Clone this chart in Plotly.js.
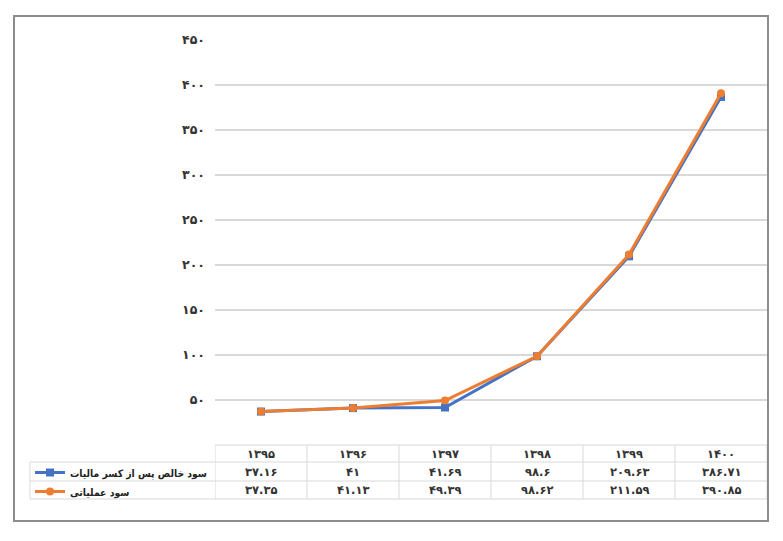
<!DOCTYPE html>
<html>
<head>
<meta charset="utf-8">
<script src="https://cdn.plot.ly/plotly-3.0.1.min.js"></script>
<style>
  html, body { margin: 0; padding: 0; background: #fff; }
  #chart { width: 783px; height: 541px; }
</style>
</head>
<body>
<div id="chart"></div>
<script>
// ---- data ----
const years = [1395, 1396, 1397, 1398, 1399, 1400];
const netProfit = [37.16, 41, 41.69, 98.6, 209.63, 386.71];
const operatingProfit = [37.35, 41.13, 49.39, 98.62, 211.59, 390.85];
const seriesNames = ["سود خالص پس از کسر مالیات", "سود عملیاتی"];
const yTicks = [50, 100, 150, 200, 250, 300, 350, 400, 450];

// ---- helpers ----
const W = 783, H = 541;
const M = { l: 215, r: 16, t: 40, b: 96 };
const PW = W - M.l - M.r, PH = H - M.t - M.b;
const px = x => (x - M.l) / PW;          // pixel x -> paper
const py = y => (H - M.b - y) / PH;      // pixel y -> paper

function toFa(v) {
  const d = "۰۱۲۳۴۵۶۷۸۹";
  return String(v).replace(/[0-9]/g, c => d[+c]);
}

const font = { family: "DejaVu Sans, sans-serif", size: 11.5, color: "#333", weight: "bold" };
const legFont = { family: "DejaVu Sans Condensed, DejaVu Sans, sans-serif", size: 10.3, color: "#222", weight: "bold" };
const gridCol = "#d9d9d9";
const idx = years.map((_, i) => i);

const traces = [
  {
    x: idx, y: netProfit, name: seriesNames[0],
    mode: "lines+markers", legendgroup: "a",
    line: { color: "#4472C4", width: 3 },
    marker: { symbol: "square", size: 8, color: "#4472C4" },
    hoverinfo: "y"
  },
  {
    x: idx, y: operatingProfit, name: seriesNames[1],
    mode: "lines+markers", legendgroup: "b",
    line: { color: "#ED7D31", width: 3 },
    marker: { symbol: "circle", size: 8, color: "#ED7D31" },
    hoverinfo: "y"
  }
];

// ---- data table below the plot ----
const rowTop = [445, 462, 481, 499];
const shapes = [];
const line = (x0, y0, x1, y1, xref) => shapes.push({
  type: "line", xref: xref || "paper", yref: "paper",
  x0: x0, x1: x1, y0: py(y0), y1: py(y1),
  line: { color: gridCol, width: 1 }
});
line(px(215), rowTop[0], px(767), rowTop[0]);
for (let r = 1; r < rowTop.length; r++) line(px(30), rowTop[r], px(767), rowTop[r]);
line(px(30), rowTop[1], px(30), rowTop[3]);
for (let i = 0; i <= years.length; i++) line(i - 0.5, rowTop[0], i - 0.5, rowTop[3], "x");

// outer frame
shapes.push({
  type: "rect", xref: "paper", yref: "paper",
  x0: px(14), x1: px(768), y0: py(16), y1: py(521),
  line: { color: "#8c8c8c", width: 2 }
});

const annotations = [];
const cell = (i, y, text) => annotations.push({
  xref: "x", yref: "paper", x: i, y: py(y), text: text,
  showarrow: false, font: font, xanchor: "center", yanchor: "middle"
});
years.forEach((v, i) => cell(i, 453.5, toFa(v)));
netProfit.forEach((v, i) => cell(i, 471.5, toFa(v)));
operatingProfit.forEach((v, i) => cell(i, 490, toFa(v)));

const layout = {
  width: W, height: H,
  margin: M,
  paper_bgcolor: "#fff",
  plot_bgcolor: "#fff",
  font: font,
  showlegend: true,
  legend: {
    x: px(30), y: py(458), xanchor: "left", yanchor: "top",
    bgcolor: "rgba(0,0,0,0)", font: legFont,
    tracegroupgap: 0, itemwidth: 30
  },
  xaxis: {
    range: [-0.5, years.length - 0.5],
    showticklabels: false, showgrid: false, zeroline: false,
    showline: false, ticks: "", fixedrange: true
  },
  yaxis: {
    range: [0, 450],
    tickvals: yTicks, ticktext: yTicks.map(toFa),
    tickfont: Object.assign({}, font, { size: 12.5 }), ticks: "", ticklabelstandoff: 9,
    showgrid: true, gridcolor: gridCol, gridwidth: 1.5,
    zeroline: false, showline: false, fixedrange: true
  },
  shapes: shapes,
  annotations: annotations
};

Plotly.newPlot("chart", traces, layout, { displayModeBar: false, staticPlot: true });
</script>
</body>
</html>
